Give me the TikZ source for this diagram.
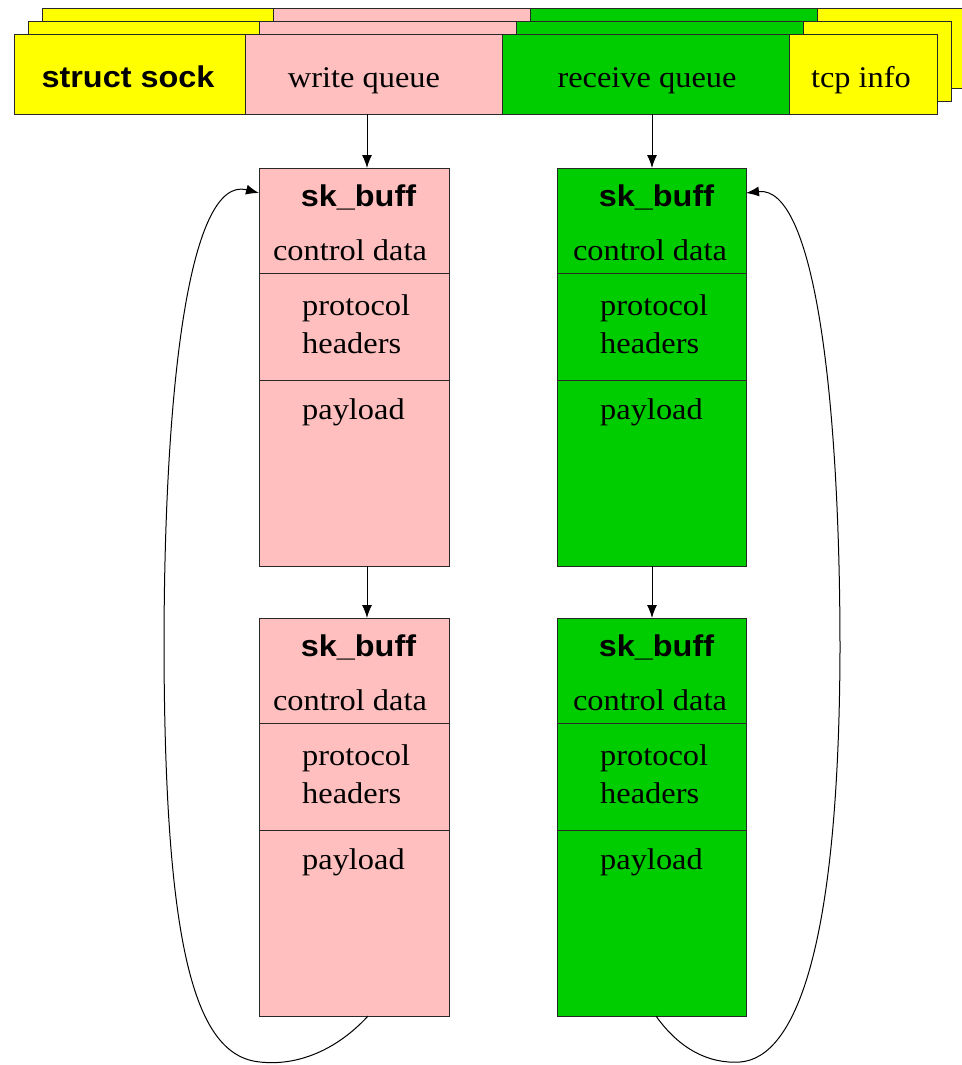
\documentclass[tikz,border=0pt]{standalone}
\usepackage{fontspec}
\newfontfamily\serifx[FakeStretch=1.08]{Liberation Serif}
\newfontfamily\sansx[FakeStretch=1.08]{Liberation Sans}
\usetikzlibrary{arrows.meta}
\definecolor{pinkq}{RGB}{255,191,191}
\definecolor{greenq}{RGB}{0,205,0}
\definecolor{yellowq}{RGB}{255,255,0}
\definecolor{edgec}{RGB}{40,40,40}
\begin{document}
\begin{tikzpicture}[x=1pt,y=-1pt,
  cell/.style={draw=edgec, line width=1pt, inner sep=0pt, outer sep=0pt, anchor=north west},
  lbl/.style={font=\serifx\fontsize{30}{33}\selectfont, inner sep=0pt},
  bld/.style={font=\sansx\bfseries\fontsize{30}{33}\selectfont, inner sep=0pt},
  arr/.style={-{Latex[length=13pt,width=10pt]}, line width=1pt, draw=black}]
\useasboundingbox (0,0) rectangle (961,1065);
\fill[white] (0,0) rectangle (961,1065);
% stacked struct sock layers (back to front)
\foreach \k/\dx/\ty in {2/28/9, 1/14/22} {
  \node[cell, fill=yellowq, minimum width=231pt, minimum height=79pt] (y\k a) at (14+\dx,\ty) {};
  \node[cell, fill=pinkq,   minimum width=257pt, minimum height=79pt] (p\k)  at (245+\dx,\ty) {};
  \node[cell, fill=greenq,  minimum width=287pt, minimum height=79pt] (g\k)  at (502+\dx,\ty) {};
  \node[cell, fill=yellowq, minimum width=148pt, minimum height=79pt] (y\k b) at (789+\dx,\ty) {};
}
\node[cell, fill=yellowq, minimum width=231pt, minimum height=79pt] (f0) at (14,35) {};
\node[cell, fill=pinkq,   minimum width=257pt, minimum height=79pt] (f1) at (245,35) {};
\node[cell, fill=greenq,  minimum width=287pt, minimum height=79pt] (f2) at (502,35) {};
\node[cell, fill=yellowq, minimum width=148pt, minimum height=79pt] (f3) at (789,35) {};
\node[bld, anchor=base] (t0) at (128,88) {struct sock};
\node[lbl, anchor=base] (t1) at (364,88) {write queue};
\node[lbl, anchor=base] (t2) at (647,88) {receive queue};
\node[lbl, anchor=base] (t3) at (861,88) {tcp info};
% sk_buff boxes
\foreach \c/\col/\x/\w/\cx/\cd/\tx in {L/pinkq/259/190/358.5/350/302, R/greenq/557/189/656.5/650/600} {
  \foreach \r/\oy in {1/0, 2/450} {
    \node[cell, fill=\col, minimum width=\w pt, minimum height=105pt] (\c\r a) at (\x,168+\oy) {};
    \node[cell, fill=\col, minimum width=\w pt, minimum height=107pt] (\c\r b) at (\x,273+\oy) {};
    \node[cell, fill=\col, minimum width=\w pt, minimum height=186pt] (\c\r c) at (\x,380+\oy) {};
    \node[bld, anchor=base] (\c\r s) at (\cx,206+\oy) {sk\_buff};
    \node[lbl, anchor=base] (\c\r d) at (\cd,260+\oy) {control data};
    \node[lbl, anchor=base west] (\c\r p) at (\tx,315+\oy) {protocol};
    \node[lbl, anchor=base west] (\c\r h) at (\tx,353+\oy) {headers};
    \node[lbl, anchor=base west] (\c\r y) at (\tx,419+\oy) {payload};
  }
}
% straight arrows
\draw[arr] ([xshift=-6.5pt]f1.south) -- ([xshift=-6.5pt]f1.south |- L1a.north);
\draw[arr] ([xshift=6.5pt]f2.south) -- ([xshift=6.5pt]f2.south |- R1a.north);
\draw[arr] ([xshift=13pt]L1c.south) -- ([xshift=13pt]L2a.north);
\draw[arr] ([xshift=0.5pt]R1c.south) -- ([xshift=0.5pt]R2a.north);
% circular links
\draw[arr] ([xshift=14pt]L2c.south) .. controls (335,1052) and (295,1066) .. (260,1062)
  .. controls (195,1056) and (165,950) .. (164,650)
  .. controls (164,380) and (190,175) .. (L1a.west |- 0,193);
\draw[arr] ([xshift=4.5pt]R2c.south) .. controls (680,1050) and (710,1064) .. (740,1062)
  .. controls (795,1058) and (839,950) .. (840,650)
  .. controls (840,400) and (815,185) .. (R1a.east |- 0,193);
\end{tikzpicture}
\end{document}
